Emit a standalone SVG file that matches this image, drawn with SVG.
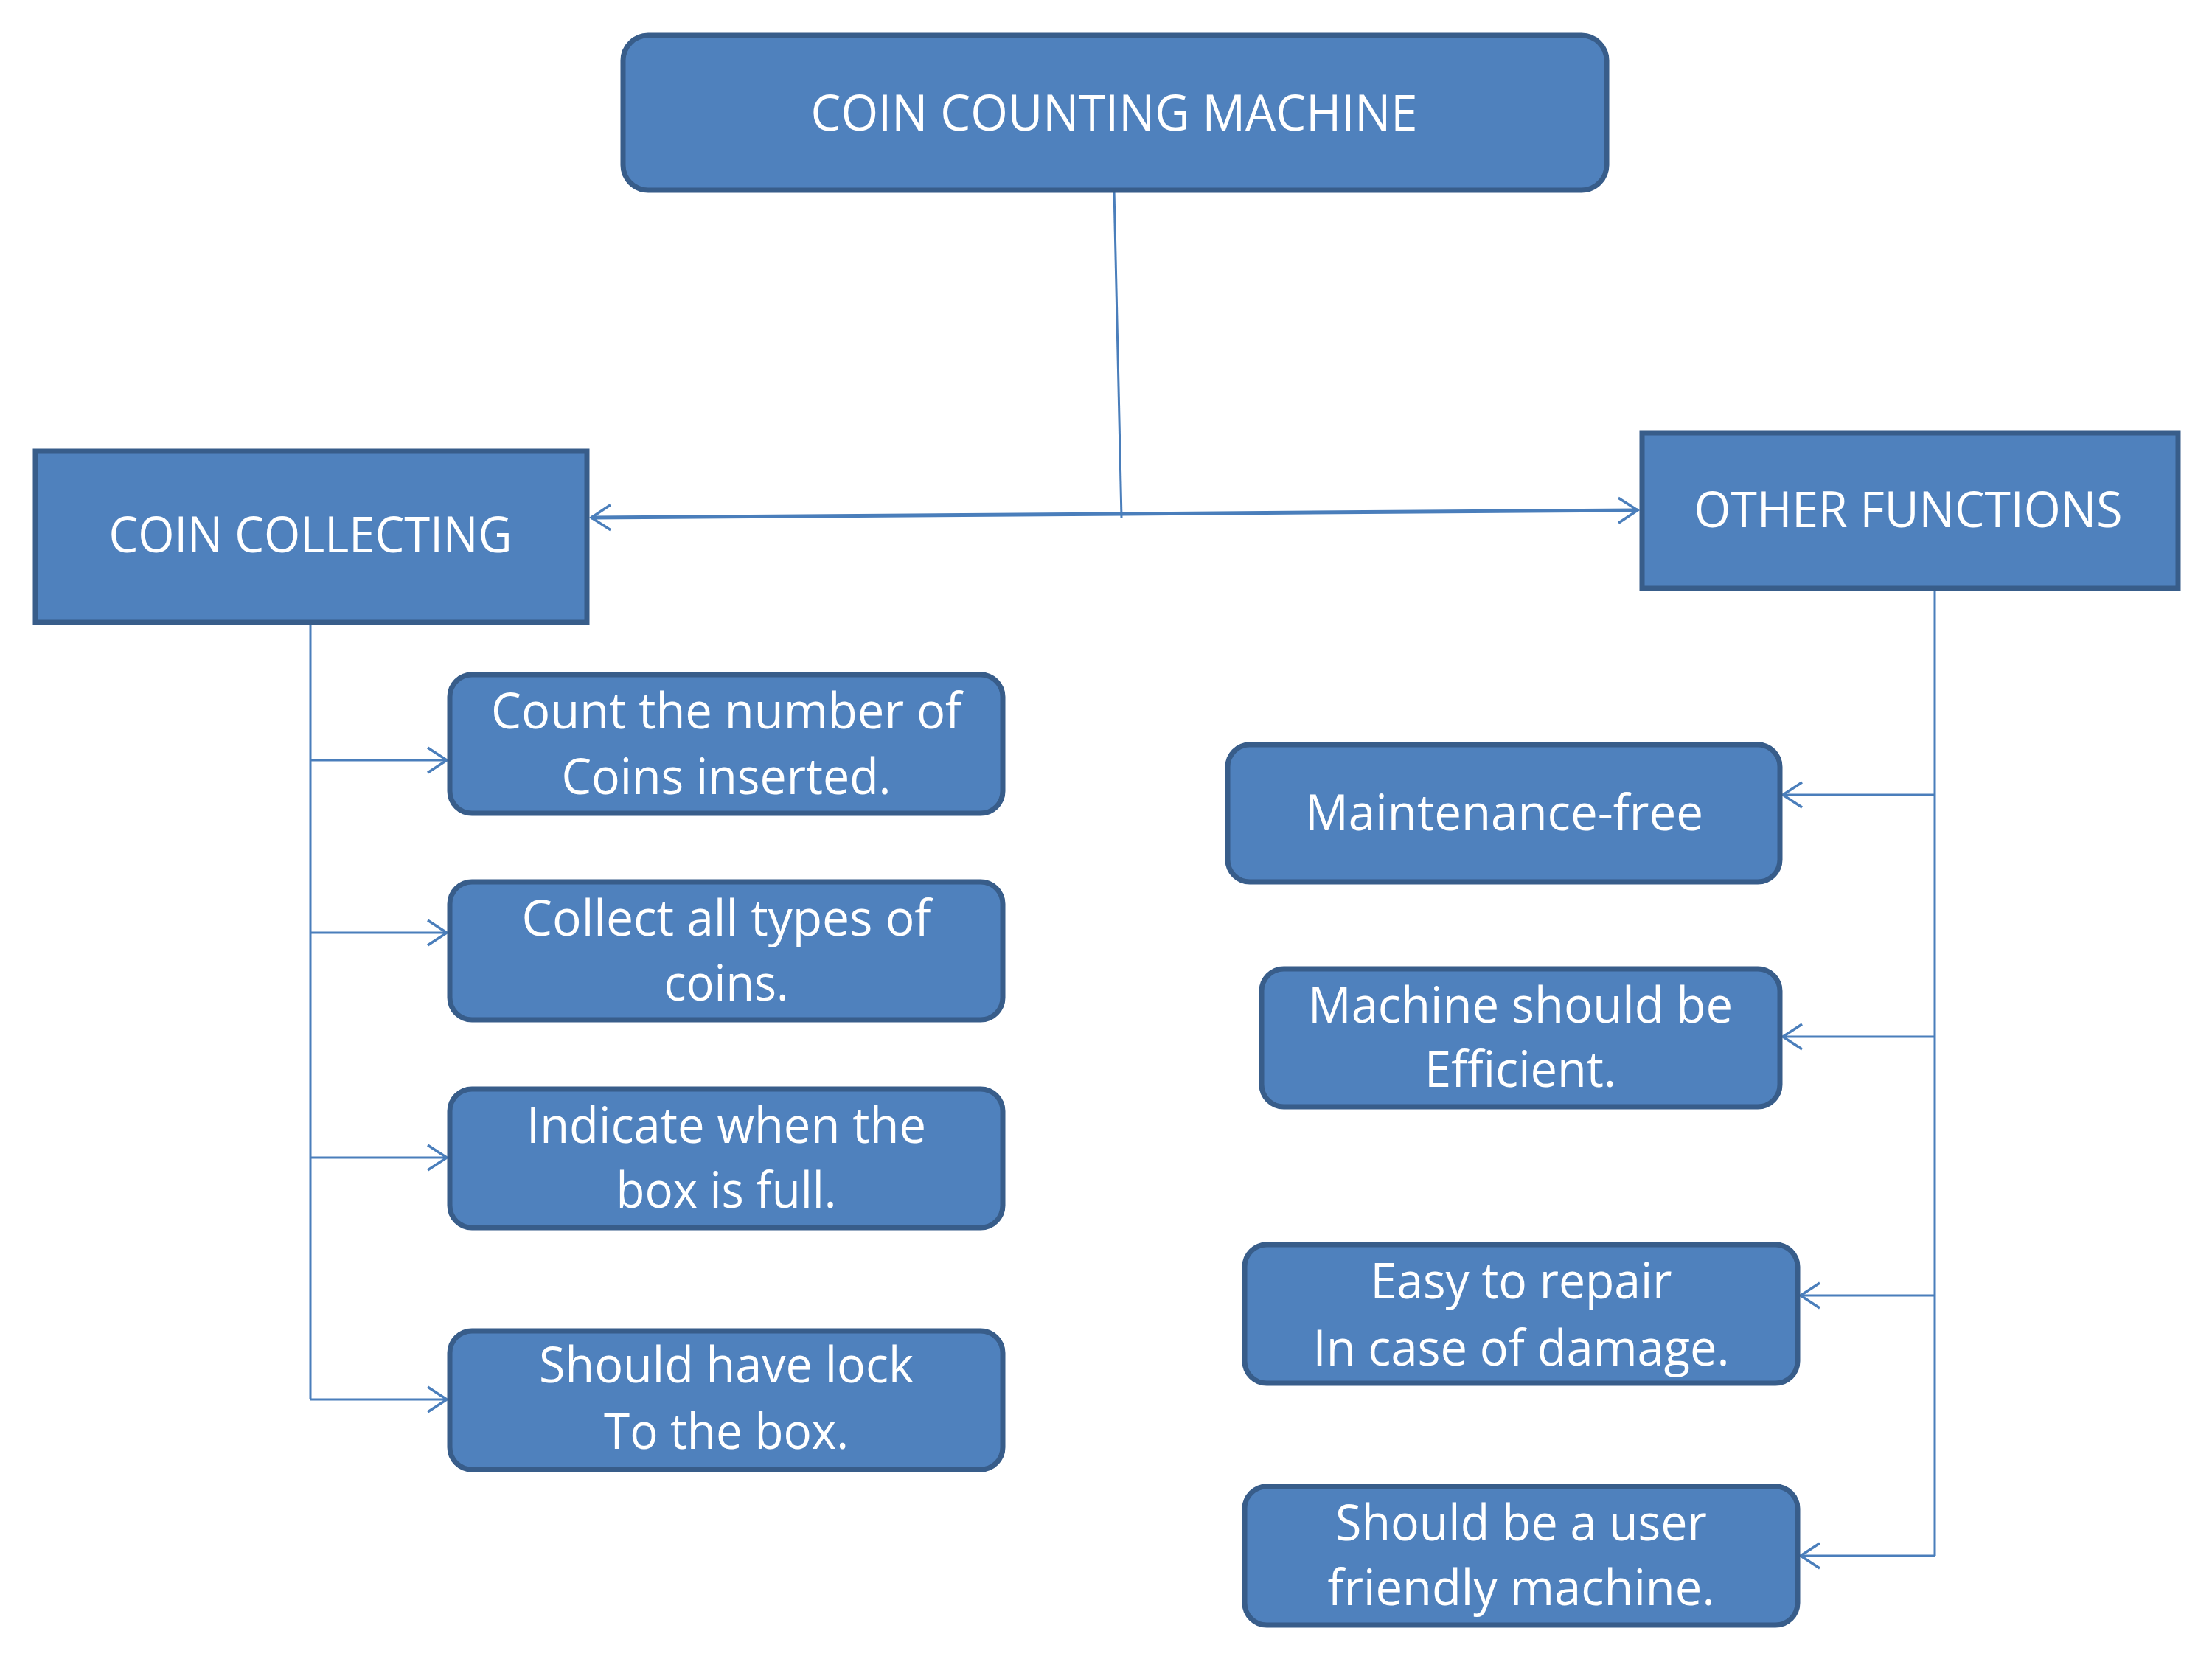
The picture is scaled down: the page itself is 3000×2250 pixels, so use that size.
<svg xmlns="http://www.w3.org/2000/svg" width="3000" height="2250" viewBox="0 0 3000 2250">
<style>
.box{fill:#4f81bd;stroke:#385d8a;stroke-width:7}
.t{font-family:"Open Sans","Noto Sans","Liberation Sans",sans-serif;font-size:67px;fill:#ffffff;text-anchor:middle}
.c{fill:none;stroke:#4a7ebb;stroke-width:3}
.cm{fill:none;stroke:#4a7ebb;stroke-width:5}
</style>
<defs>
<marker id="arr" markerUnits="userSpaceOnUse" markerWidth="60" markerHeight="60" viewBox="-40 -30 60 60" refX="0" refY="0" orient="auto-start-reverse">
<path d="M-26,-17 L0,0 L-26,17" fill="none" stroke="#4a7ebb" stroke-width="3.5"/>
</marker>
</defs>
<rect width="3000" height="2250" fill="#ffffff"/>
<g id="connectors">
<path class="c" d="M1511,258 L1521,702"/>
<path class="cm" d="M802,702 L2221,692" marker-start="url(#arr)" marker-end="url(#arr)"/>
<path class="c" d="M421,844 L421,1898"/>
<path class="c" d="M421,1031 L606,1031" marker-end="url(#arr)"/>
<path class="c" d="M421,1265 L606,1265" marker-end="url(#arr)"/>
<path class="c" d="M421,1570 L606,1570" marker-end="url(#arr)"/>
<path class="c" d="M421,1898 L606,1898" marker-end="url(#arr)"/>
<path class="c" d="M2624,798 L2624,2110"/>
<path class="c" d="M2624,1078 L2418,1078" marker-end="url(#arr)"/>
<path class="c" d="M2624,1406 L2418,1406" marker-end="url(#arr)"/>
<path class="c" d="M2624,1757 L2442,1757" marker-end="url(#arr)"/>
<path class="c" d="M2624,2110 L2442,2110" marker-end="url(#arr)"/>
</g>
<g id="root">
<rect class="box" x="845" y="48" width="1334" height="210" rx="34" ry="34"/>
<text class="t" x="1511" y="177" textLength="823" lengthAdjust="spacingAndGlyphs">COIN COUNTING MACHINE</text>
</g>
<g id="coin-collecting">
<rect class="box" x="48" y="612" width="748" height="232"/>
<text class="t" x="421" y="749" textLength="547" lengthAdjust="spacingAndGlyphs">COIN COLLECTING</text>
</g>
<g id="other-functions">
<rect class="box" x="2227" y="587" width="727" height="211"/>
<text class="t" x="2588" y="715" textLength="581" lengthAdjust="spacingAndGlyphs">OTHER FUNCTIONS</text>
</g>
<g id="count">
<rect class="box" x="610" y="915" width="750" height="188" rx="30" ry="30"/>
<text class="t" x="985" y="988" textLength="638" lengthAdjust="spacingAndGlyphs">Count the number of</text>
<text class="t" x="985" y="1077" textLength="447" lengthAdjust="spacingAndGlyphs">Coins inserted.</text>
</g>
<g id="collect">
<rect class="box" x="610" y="1196" width="750" height="187" rx="30" ry="30"/>
<text class="t" x="985" y="1269" textLength="555" lengthAdjust="spacingAndGlyphs">Collect all types of</text>
<text class="t" x="985" y="1357" textLength="169" lengthAdjust="spacingAndGlyphs">coins.</text>
</g>
<g id="indicate">
<rect class="box" x="610" y="1477" width="750" height="188" rx="30" ry="30"/>
<text class="t" x="985" y="1550" textLength="542" lengthAdjust="spacingAndGlyphs">Indicate when the</text>
<text class="t" x="985" y="1638" textLength="299" lengthAdjust="spacingAndGlyphs">box is full.</text>
</g>
<g id="lock">
<rect class="box" x="610" y="1805" width="750" height="188" rx="30" ry="30"/>
<text class="t" x="985" y="1875" textLength="508" lengthAdjust="spacingAndGlyphs">Should have lock</text>
<text class="t" x="985" y="1965" textLength="332" lengthAdjust="spacingAndGlyphs">To the box.</text>
</g>
<g id="maintenance">
<rect class="box" x="1665" y="1010" width="749" height="186" rx="30" ry="30"/>
<text class="t" x="2040" y="1126" textLength="540" lengthAdjust="spacingAndGlyphs">Maintenance-free</text>
</g>
<g id="efficient">
<rect class="box" x="1711" y="1314" width="703" height="187" rx="30" ry="30"/>
<text class="t" x="2062" y="1387" textLength="576" lengthAdjust="spacingAndGlyphs">Machine should be</text>
<text class="t" x="2062" y="1474" textLength="260" lengthAdjust="spacingAndGlyphs">Efficient.</text>
</g>
<g id="repair">
<rect class="box" x="1688" y="1688" width="750" height="188" rx="30" ry="30"/>
<text class="t" x="2063" y="1761" textLength="409" lengthAdjust="spacingAndGlyphs">Easy to repair</text>
<text class="t" x="2063" y="1852" textLength="565" lengthAdjust="spacingAndGlyphs">In case of damage.</text>
</g>
<g id="user-friendly">
<rect class="box" x="1688" y="2016" width="750" height="188" rx="30" ry="30"/>
<text class="t" x="2063" y="2089" textLength="504" lengthAdjust="spacingAndGlyphs">Should be a user</text>
<text class="t" x="2063" y="2177" textLength="525" lengthAdjust="spacingAndGlyphs">friendly machine.</text>
</g>
</svg>
